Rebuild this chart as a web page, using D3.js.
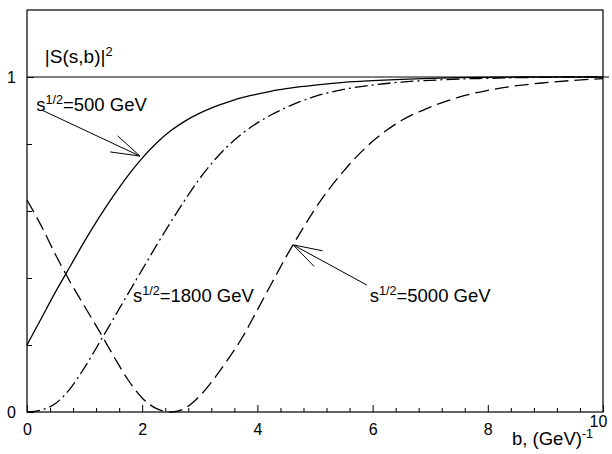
<!DOCTYPE html>
<html>
<head>
<meta charset="utf-8">
<script src="https://cdn.jsdelivr.net/npm/d3@7"></script>
<style>
  html, body { margin: 0; padding: 0; background: #fff; }
  svg { display: block; font-family: "Liberation Sans", Arial, Helvetica, sans-serif; }
</style>
</head>
<body>
<div id="chart"></div>
<script>
// ---- data ----
const bValues = [0, 0.25, 0.5, 0.75, 1, 1.25, 1.5, 1.75, 2, 2.25, 2.5, 2.75, 3, 3.25, 3.5, 3.75, 4, 4.25, 4.5, 4.75, 5, 5.5, 6, 6.5, 7, 7.5, 8, 8.5, 9, 9.5, 10];
const s500  = [0.20, 0.28, 0.36, 0.435, 0.51, 0.58, 0.645, 0.705, 0.758, 0.803, 0.84, 0.869, 0.892, 0.911, 0.926, 0.939, 0.949, 0.958, 0.965, 0.971, 0.976, 0.984, 0.989, 0.993, 0.996, 0.998, 0.999, 1.0, 1.0, 1.0, 1.0];
const s1800 = [0.0, 0.006, 0.026, 0.07, 0.133, 0.205, 0.278, 0.352, 0.425, 0.498, 0.568, 0.635, 0.697, 0.751, 0.796, 0.833, 0.863, 0.888, 0.909, 0.927, 0.942, 0.963, 0.976, 0.985, 0.99, 0.994, 0.996, 0.998, 0.999, 1.0, 1.0];
const s5000 = [0.633, 0.555, 0.468, 0.388, 0.315, 0.243, 0.168, 0.097, 0.042, 0.01, 0.0, 0.012, 0.048, 0.1, 0.16, 0.226, 0.305, 0.385, 0.464, 0.537, 0.606, 0.72, 0.808, 0.87, 0.91, 0.94, 0.96, 0.974, 0.983, 0.99, 0.995];
const seriesNames = ["500", "1800", "5000"];
const xMajorTicks = [0, 2, 4, 6, 8, 10];
const xMinorTicks = [0.4, 0.8, 1.2, 1.6, 2.4, 2.8, 3.2, 3.6, 4.4, 4.8, 5.2, 5.6, 6.4, 6.8, 7.2, 7.6, 8.4, 8.8, 9.2, 9.6];
const yMajorTicks = [0, 1];
const yMinorTicks = [0.2, 0.4, 0.6, 0.8];
// label anchor points in data units: [b, value]
const labelPos = { "500": [0.16, 0.898], "1800": [1.84, 0.328], "5000": [5.95, 0.328] };
const arrows = [
  { from: [0.26, 0.901], to: [1.96, 0.764] },
  { from: [5.90, 0.379], to: [4.62, 0.499] }
];

// ---- layout ----
const W = 612, H = 454;
const margin = { left: 27, right: 9, top: 10, bottom: 42 };
const iw = W - margin.left - margin.right;
const ih = H - margin.top - margin.bottom;

const svg = d3.select("#chart").append("svg").attr("width", W).attr("height", H);
const g = svg.append("g").attr("transform", `translate(${margin.left},${margin.top})`);

const x = d3.scaleLinear().domain([0, 10]).range([0, iw]);
const y = d3.scaleLinear().domain([0, 1.2]).range([ih, 0]);

// frame
g.append("rect").attr("x", 0).attr("y", 0).attr("width", iw).attr("height", ih)
  .attr("fill", "none").attr("stroke", "#000").attr("stroke-width", 1.2);

// reference line at 1
g.append("line").attr("x1", 0).attr("x2", iw + 6).attr("y1", y(1)).attr("y2", y(1))
  .attr("stroke", "#000").attr("stroke-width", 1);

// axes
const xMajor = d3.axisBottom(x).tickValues(xMajorTicks).tickSizeInner(-7).tickSizeOuter(0)
  .tickPadding(12).tickFormat(d3.format("d"));
const xMinor = d3.axisBottom(x).tickValues(xMinorTicks).tickSizeInner(-4).tickSizeOuter(0);
const yMajor = d3.axisLeft(y).tickValues(yMajorTicks).tickSizeInner(-7).tickSizeOuter(0)
  .tickPadding(11).tickFormat(d3.format("d"));
const yMinor = d3.axisLeft(y).tickValues(yMinorTicks).tickSizeInner(-5).tickSizeOuter(0);

function styleAxis(sel) {
  sel.select(".domain").remove();
  sel.selectAll("line").attr("stroke", "#000").attr("stroke-width", 1);
  sel.selectAll("text").attr("fill", "#000").attr("font-size", 16)
    .attr("font-family", "'Liberation Sans', Arial, sans-serif");
}
function ticksOnly(sel) {
  sel.select(".domain").remove();
  sel.selectAll("text").remove();
  sel.selectAll("line").attr("stroke", "#000").attr("stroke-width", 1);
}
g.append("g").attr("transform", `translate(0,${ih})`).call(xMajor).call(styleAxis)
  .selectAll(".tick text").filter(d => d === 10).attr("dx", -5).attr("y", 4);
g.append("g").attr("transform", `translate(0,${ih})`).call(xMinor).call(ticksOnly);
g.append("g").call(yMajor).call(styleAxis);
g.append("g").call(yMinor).call(ticksOnly);

// curves
const line = d3.line().x(d => x(d[0])).y(d => y(d[1])).curve(d3.curveMonotoneX);
const series = [
  { name: "500", vals: s500, dash: null },
  { name: "1800", vals: s1800, dash: "13,4,2,4" },
  { name: "5000", vals: s5000, dash: "14,6" }
];
series.forEach(s => {
  const pts = bValues.map((b, i) => [b, s.vals[i]]);
  g.append("path").datum(pts).attr("d", line)
    .attr("fill", "none").attr("stroke", "#000").attr("stroke-width", 1.3)
    .attr("stroke-dasharray", s.dash);
});

// text helper with superscripts
function richText(parent, px, py, parts, size, anchor) {
  const t = parent.append("text").attr("x", px).attr("y", py)
    .attr("font-size", size).attr("fill", "#000").attr("text-anchor", anchor || "start");
  let raised = false;
  parts.forEach(p => {
    const ts = t.append("tspan").text(p.t);
    if (p.sup) {
      ts.attr("dy", -7).attr("font-size", size * 0.68);
      raised = true;
    } else if (raised) {
      ts.attr("dy", 7);
      raised = false;
    }
  });
  return t;
}

// series labels
seriesNames.forEach(n => {
  const p = labelPos[n];
  richText(g, x(p[0]), y(p[1]), [{ t: "s" }, { t: "1/2", sup: true }, { t: "=" + n + " GeV" }], 18.5);
});

// arrows (open heads)
arrows.forEach(a => {
  const x1 = x(a.from[0]), y1 = y(a.from[1]), x2 = x(a.to[0]), y2 = y(a.to[1]);
  g.append("line").attr("x1", x1).attr("y1", y1).attr("x2", x2).attr("y2", y2)
    .attr("stroke", "#000").attr("stroke-width", 1);
  const ang = Math.atan2(y1 - y2, x1 - x2);
  [-0.3, 0.3].forEach(da => {
    g.append("line").attr("x1", x2).attr("y1", y2)
      .attr("x2", x2 + 30 * Math.cos(ang + da)).attr("y2", y2 + 30 * Math.sin(ang + da))
      .attr("stroke", "#000").attr("stroke-width", 1);
  });
});

// axis titles
richText(g, x(0.31), y(1.042), [{ t: "|S(s,b)|" }, { t: "2", sup: true }], 19);
richText(g, x(8.42), ih + 33, [{ t: "b, (GeV)" }, { t: "-1", sup: true }], 18.5);
</script>
</body>
</html>
